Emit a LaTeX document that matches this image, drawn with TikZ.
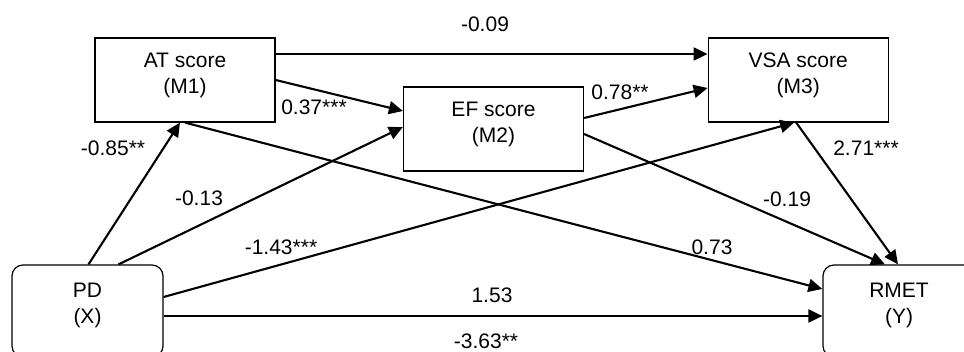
\documentclass[tikz,border=0pt]{standalone}
\usepackage{fontspec}
\setmainfont{Liberation Sans}
\usetikzlibrary{positioning,calc}
\usetikzlibrary{arrows.meta}

\tikzset{
   mbox/.style={draw, line width=1.2pt, minimum width=180pt, minimum height=84pt,
      inner sep=0pt, align=center, text depth=14pt},
   xybox/.style={mbox, rounded corners=11pt, minimum width=151pt, minimum height=92pt,
      text depth=16pt},
   effect/.style={line width=2.1pt, -{Triangle[length=14pt,width=13pt]}},
   coef/.style={inner sep=0pt}
}

\begin{document}
\begin{tikzpicture}[x=1pt, y=-1pt, font=\fontsize{21pt}{26pt}\selectfont]
   \clip (0,0) rectangle (964,352);

   % mediators
   \node[mbox]                     (at)  at (185,80)  {AT score\\(M1)};
   \node[mbox, right=432pt of at]  (vsa)              {VSA score\\(M3)};
   \node[mbox]                     (ef)  at (493.5,129) {EF score\\(M2)};

   % predictor and outcome
   \node[xybox]                    (pd)   at (87.5,311) {PD\\(X)};
   \node[xybox, minimum width=152pt] (rmet) at (899,311) {RMET\\(Y)};

   % paths
   \draw[effect] ([xshift=1pt]pd.north)   -- ([xshift=-5pt]at.south);
   \draw[effect] ([xshift=31pt]pd.north)  -- ([yshift=2pt]ef.west);
   \draw[effect] ([yshift=14pt]pd.east)   -- ([xshift=-4pt]vsa.south);
   \draw[effect] ([yshift=-5pt]pd.east)   -- ([yshift=-5pt]rmet.west);
   \draw[effect] ([yshift=26pt]at.east)   -- ([yshift=26pt]vsa.west);
   \draw[effect] (at.east)                -- ([yshift=18pt]ef.west);
   \draw[effect] (at.south)               -- ([yshift=22pt]rmet.west);
   \draw[effect] ([yshift=11pt]ef.east)   -- ([yshift=-8pt]vsa.west);
   \draw[effect] ([yshift=-5pt]ef.east)   -- ([xshift=-14pt]rmet.north);
   \draw[effect] ([xshift=-2pt]vsa.south) -- ([xshift=-1pt]rmet.north);

   % coefficients
   \node[coef] (c09)  at (485,24)    {-0.09};
   \node[coef] (c37)  at (314,107.5) {0.37***};
   \node[coef] (c85)  at (113,148)   {-0.85**};
   \node[coef] (c13)  at (199,198)   {-0.13};
   \node[coef] (c143) at (281,247.5) {-1.43***};
   \node[coef] (c153) at (492,295)   {1.53};
   \node[coef] (c363) at (486,341.5) {-3.63**};
   \node[coef] (c73)  at (712,247.5) {0.73};
   \node[coef] (c19)  at (787,199)   {-0.19};
   \node[coef] (c271) at (866,148)   {2.71***};
   \node[coef] (c78)  at (620,92.5)  {0.78**};
\end{tikzpicture}
\end{document}
